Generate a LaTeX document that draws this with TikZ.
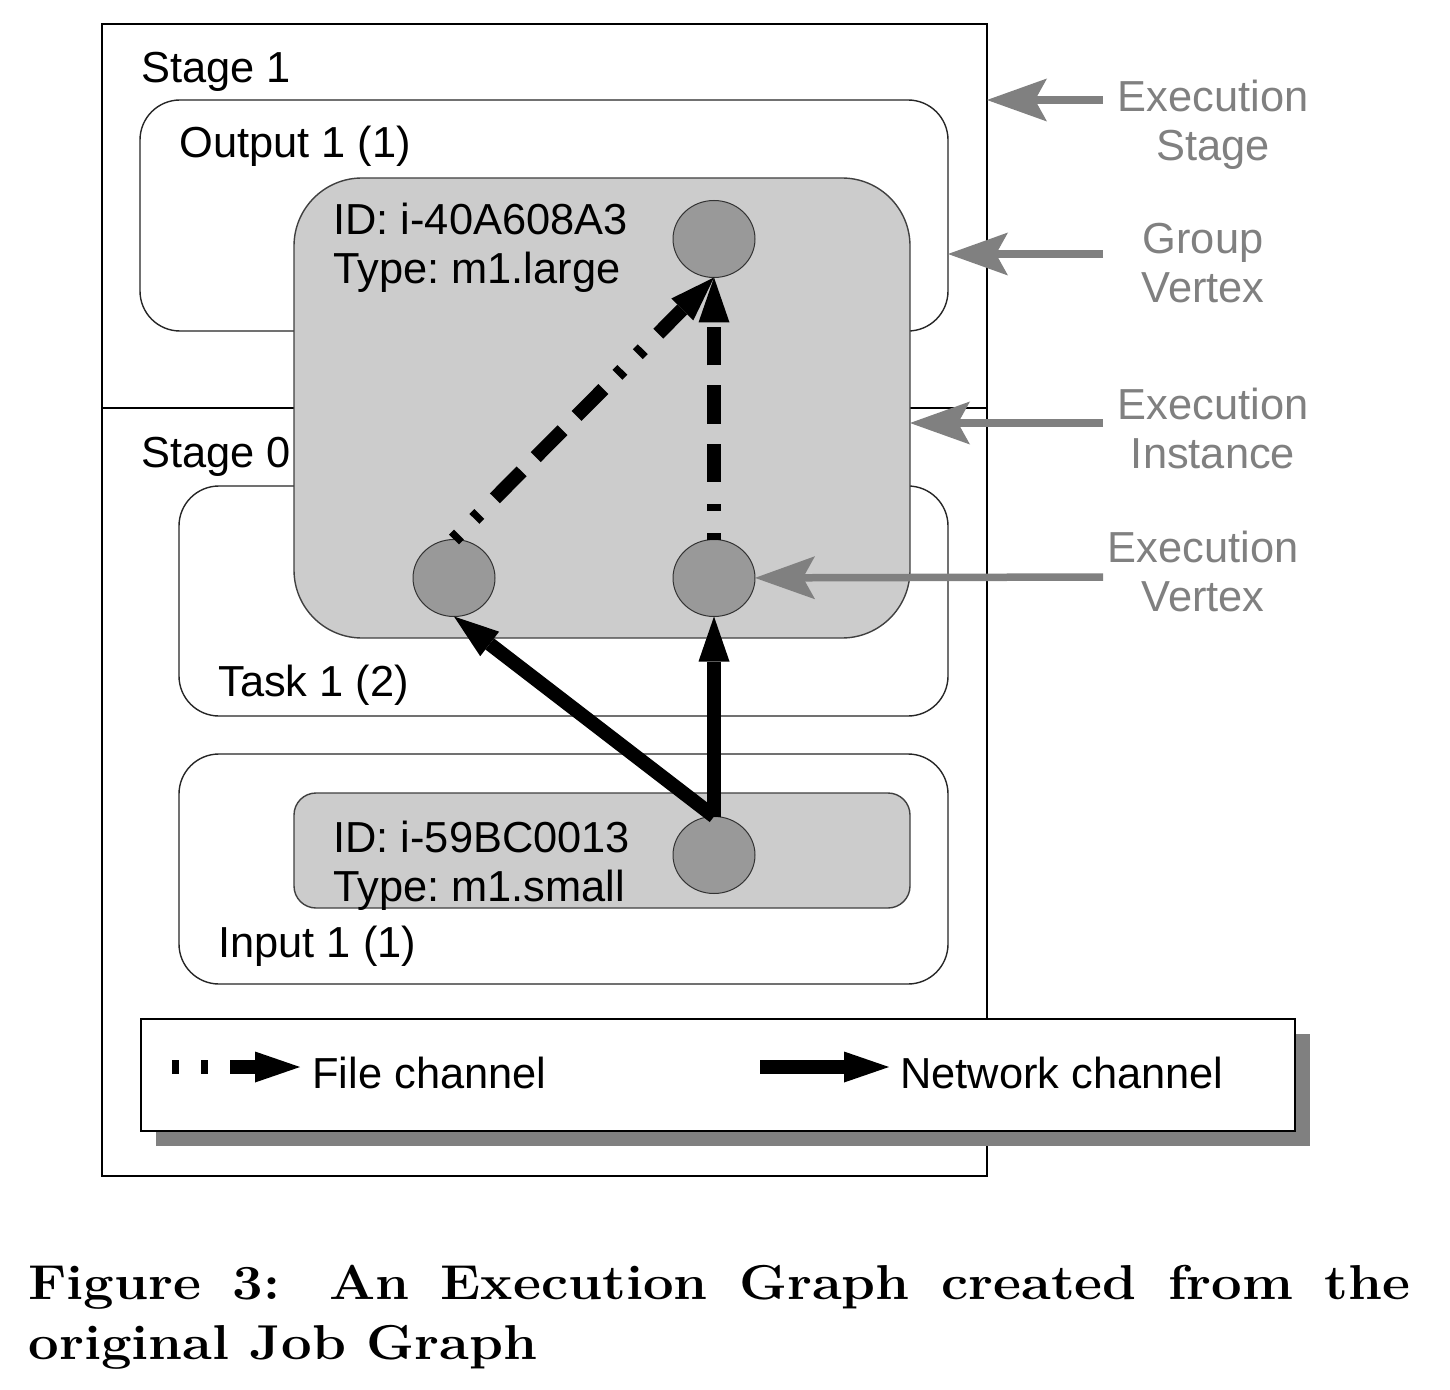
\documentclass[tikz,border=0pt]{standalone}
\usepackage{fontspec}
\newfontfamily\arial{Liberation Sans}
\usetikzlibrary{arrows.meta,shapes.geometric,shadows}
\definecolor{instgray}{HTML}{CCCCCC}
\definecolor{vertgray}{HTML}{999999}
\definecolor{labgray}{HTML}{808080}
\begin{document}
\begin{tikzpicture}[x=0.5pt,y=-0.5pt,
  box/.style={rectangle, draw=black!85, line width=0.7pt, inner sep=0pt, outer sep=0pt, anchor=north west},
  whitebox/.style={box, fill=white, rounded corners=20pt, minimum width=384.5pt, minimum height=115pt},
  instbox/.style={box, fill=instgray, draw=black!75},
  vert/.style={ellipse, draw=black!80, line width=0.5pt, fill=vertgray, minimum width=41pt, minimum height=38.5pt, inner sep=0pt, outer sep=0pt},
  lbl/.style={anchor=base west, inner sep=0pt, font=\arial\fontsize{21.7}{24.3}\selectfont\frenchspacing},
  rlbl/.style={anchor=north, inner sep=0pt, align=center, text=labgray, font=\arial\fontsize{21.7}{24.3}\selectfont},
  filech/.style={line width=7pt, dash pattern=on 3.5pt off 11pt on 3.5pt off 11pt on 19pt off 10pt on 19pt off 10pt on 19pt off 10pt, -{Triangle[length=22.5pt,width=15.5pt,line width=0pt]}},
  netch/.style={line width=7pt, -{Triangle[length=22.5pt,width=15.5pt,line width=0pt]}},
  pointer/.style={line width=3.75pt, draw=labgray, -{Stealth[length=30pt,width=21.5pt,inset=6pt,line width=0pt]}}
]
\fill[white] (0,0) rectangle (1450,1390);
\useasboundingbox (0,0) rectangle (1450,1390);

% execution stages
\node[box, draw=black, minimum width=442.5pt, minimum height=576pt] (stage) at (102,24) {};
\coordinate (divy) at (0,408);
\draw[black, line width=0.7pt] (stage.west |- divy) -- (stage.east |- divy);
\node[lbl] (st1) at (141,83) {Stage 1};
\node[lbl] (st0) at (141,467) {Stage 0};

% group vertices
\node[whitebox, minimum width=404pt, minimum height=115.5pt] (outbox) at (140,100) {};
\node[lbl] (outlbl) at (179,158) {Output 1 (1)};
\node[whitebox] (taskbox) at (179,486) {};
\node[lbl] (tasklbl) at (218,696) {Task 1 (2)};
\node[whitebox] (inbox) at (179,754) {};
\node[lbl] (inlbl) at (218,957) {Input 1 (1)};

% execution instances
\node[instbox, rounded corners=34pt, minimum width=308pt, minimum height=230pt] (inst1) at (294,178) {};
\node[lbl] (id1) at (333,235) {ID: i-40A608A3};
\node[lbl] (ty1) at (333,284) {Type: m1.large};
\node[instbox, rounded corners=11pt, minimum width=308pt, minimum height=57.5pt] (inst2) at (294,793) {};
\node[lbl] (id2) at (333,852) {ID: i-59BC0013};
\node[lbl] (ty2) at (333,901) {Type: m1.small};

% execution vertices
\node[vert] (v3) at (714,239) {};
\node[vert] (v1) at (454,578) {};
\node[vert] (v2) at (714,578) {};
\node[vert] (v4) at (714,855) {};

% channels
\draw[filech] (v1.north) -- (v3.south);
\draw[filech] (v2.north) -- (v3.south);
\draw[netch] (v4.north) -- (v2.south);
\draw[netch] (v4.north) -- (v1.south);

% legend
\node[box, draw=black, fill=white, general shadow={fill=labgray, shadow xshift=7.5pt, shadow yshift=-7.5pt}, minimum width=577pt, minimum height=56pt] (legend) at (141,1019) {};
\coordinate (fcA) at (172,1067);
\coordinate (fcB) at (300,1067);
\draw[filech] (fcA) -- (fcB);
\node[lbl] (fclbl) at (312,1088) {File channel};
\coordinate (ncA) at (760,1067);
\coordinate (ncB) at (889,1067);
\draw[netch] (ncA) -- (ncB);
\node[lbl] (nclbl) at (900,1088) {Network channel};

% right-hand labels
\node[rlbl] (lES) at (1213,80) {Execution\\Stage};
\node[rlbl] (lGV) at (1203,223) {Group\\Vertex};
\node[rlbl] (lEI) at (1213,388) {Execution\\Instance};
\node[rlbl] (lEV) at (1203,531) {Execution\\Vertex};
\coordinate (pES) at (1103,100);
\coordinate (pGV) at (1103,254);
\coordinate (pEI) at (1103,423);
\coordinate (pEV) at (1103,577);
\draw[pointer] (pES) -- (stage.east |- pES);
\draw[pointer] (pGV) -- (outbox.east |- pGV);
\draw[pointer] (pEI) -- (inst1.east |- pEI);
\draw[pointer] (pEV) -- (v2);

% caption
\node[anchor=north west, inner sep=0pt, xscale=1.11, transform shape, text width=622.5pt, align=justify, font=\bfseries\fontsize{24.5}{30}\selectfont] (cap) at (28,1265) {Figure 3: An Execution Graph created from the\linebreak original Job Graph};
\end{tikzpicture}
\end{document}
